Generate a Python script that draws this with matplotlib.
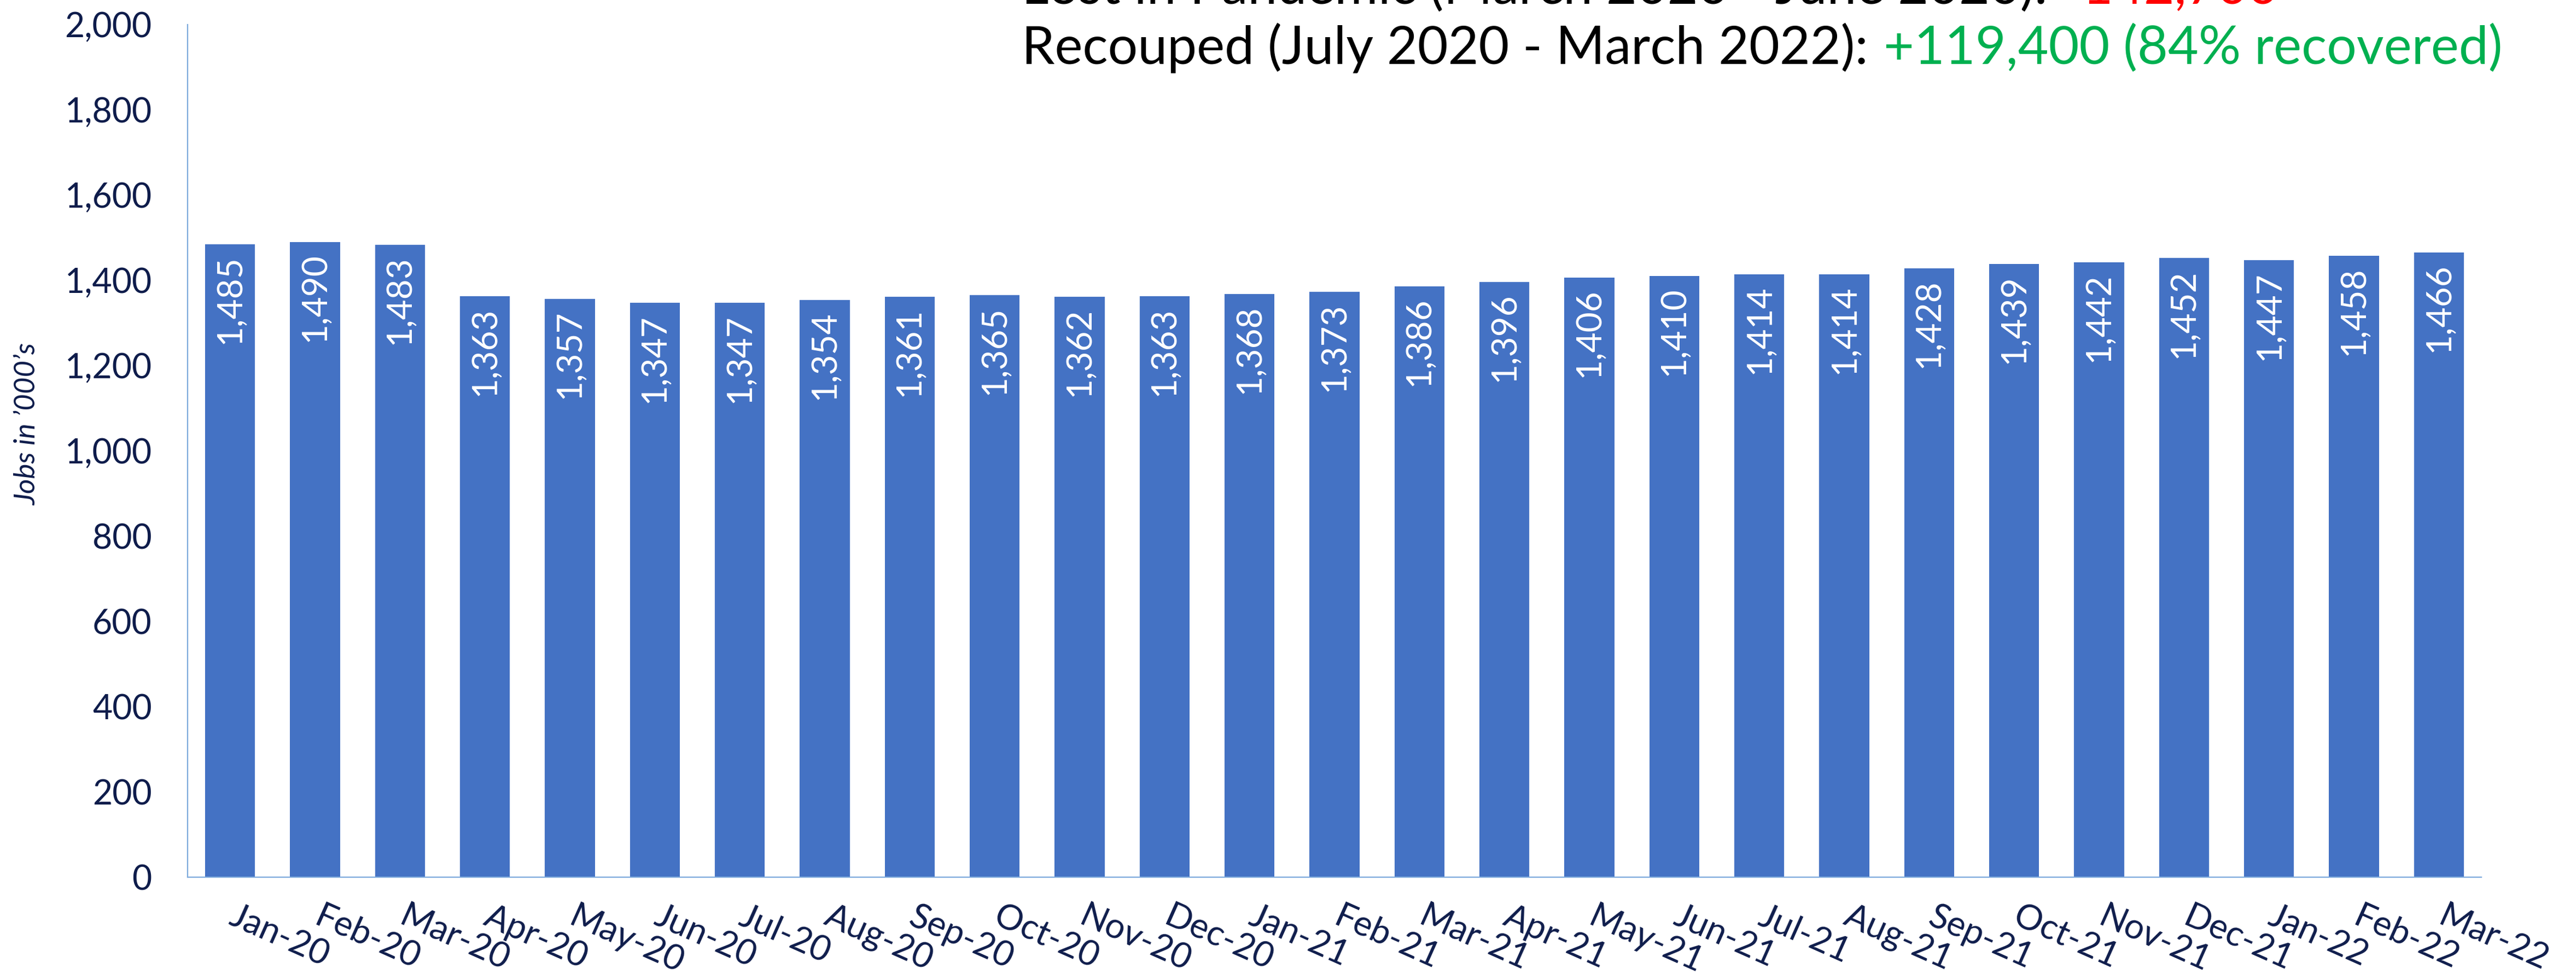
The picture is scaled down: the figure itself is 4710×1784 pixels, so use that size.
import matplotlib
matplotlib.use('Agg')
import matplotlib.pyplot as plt
from matplotlib import transforms

months = ['Jan-20', 'Feb-20', 'Mar-20', 'Apr-20', 'May-20', 'Jun-20', 'Jul-20', 'Aug-20',
          'Sep-20', 'Oct-20', 'Nov-20', 'Dec-20', 'Jan-21', 'Feb-21', 'Mar-21', 'Apr-21',
          'May-21', 'Jun-21', 'Jul-21', 'Aug-21', 'Sep-21', 'Oct-21', 'Nov-21', 'Dec-21',
          'Jan-22', 'Feb-22', 'Mar-22']
jobs = [1485, 1490, 1483, 1363, 1357, 1347, 1347, 1354, 1361, 1365, 1362, 1363, 1368,
        1373, 1386, 1396, 1406, 1410, 1414, 1414, 1428, 1439, 1442, 1452, 1447, 1458, 1466]
y_ticks = [0, 200, 400, 600, 800, 1000, 1200, 1400, 1600, 1800, 2000]

lost_text = "Lost in Pandemic (March 2020 - June 2020):"
lost_value = "-142,700"
recouped_text = "Recouped (July 2020 - March 2022):"
recouped_value = "+119,400 (84% recovered)"
y_label = "Jobs in \u2019000\u2019s"

W, H, DPI = 4710, 1784, 100
NAVY = '#0E1C4B'
BAR = '#4472C4'
SPINE = '#7DAADC'

plt.rcParams['font.family'] = ['Lato', 'DejaVu Sans']
fig = plt.figure(figsize=(W / DPI, H / DPI), dpi=DPI)
ax = fig.add_axes([343 / W, 1 - 1605 / H, (4537 - 343) / W, (1605 - 45) / H])

x = list(range(len(months)))
bars = ax.bar(x, jobs, width=0.59, color=BAR, zorder=2)
ax.set_xlim(-0.5, len(months) - 0.5)
ax.set_ylim(0, 2000)

ax.set_yticks(y_ticks)
ax.set_yticklabels([f'{v:,}' for v in y_ticks])
ax.tick_params(axis='y', length=0, pad=47, labelsize=45, labelcolor=NAVY)

ax.set_xticks(x)
ax.set_xticklabels(months, rotation=-24, ha='left', va='top', rotation_mode='anchor')
ax.tick_params(axis='x', length=0, pad=31, labelsize=46, labelcolor=NAVY)
offset = transforms.ScaledTranslation(14 / DPI, 0, fig.dpi_scale_trans)
for lab in ax.get_xticklabels():
    lab.set_transform(lab.get_transform() + offset)

for s in ['top', 'right']:
    ax.spines[s].set_visible(False)
for s in ['left', 'bottom']:
    ax.spines[s].set_color(SPINE)
    ax.spines[s].set_linewidth(1.6)

for i, v in zip(x, jobs):
    ax.annotate(f'{v:,}', xy=(i, v), xytext=(0, -14), textcoords='offset points',
                rotation=90, ha='center', va='top', color='white', fontsize=46, zorder=3)

fig.text(50 / W, 1 - 775 / H, y_label, rotation=90, style='italic', fontsize=38,
         ha='center', va='center', color=NAVY)

fig.canvas.draw()
r = fig.canvas.get_renderer()
gap = 28
TS = 69.5

t = fig.text(1868 / W, 1 - 7 / H, lost_text, fontsize=TS, va='baseline', ha='left', color='black')
bb = t.get_window_extent(r)
fig.text((bb.x1 + gap) / W, 1 - 7 / H, lost_value, fontsize=TS, va='baseline', ha='left',
         color='#FF0000')

t = fig.text(1868 / W, 1 - 117 / H, recouped_text, fontsize=TS, va='baseline', ha='left',
             color='black')
bb = t.get_window_extent(r)
fig.text((bb.x1 + gap) / W, 1 - 117 / H, recouped_value, fontsize=TS, va='baseline',
         ha='left', color='#00B050')

fig.savefig('out.png', dpi=DPI)
